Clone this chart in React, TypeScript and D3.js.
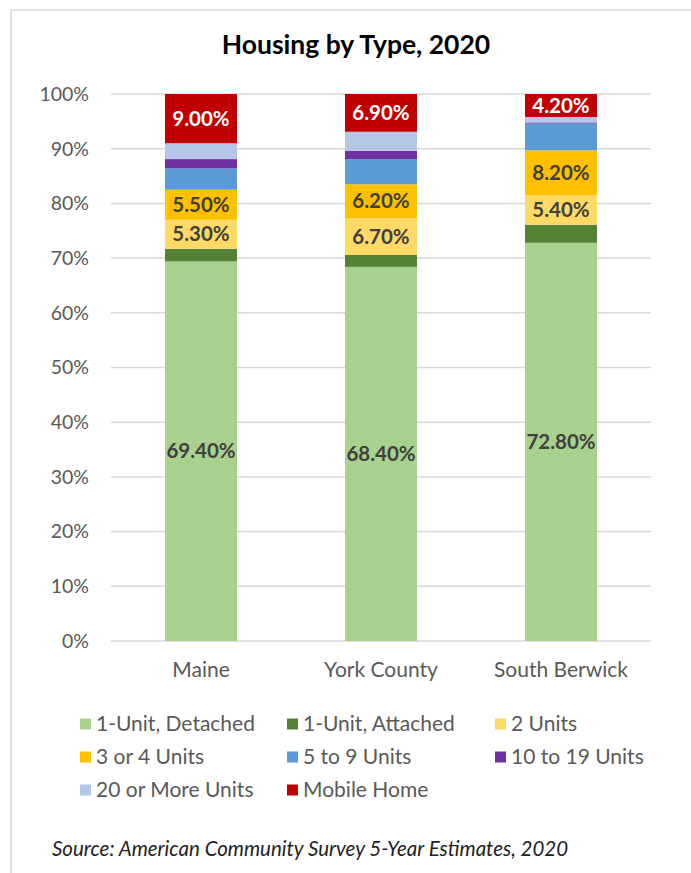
import React from "react";
import * as d3 from "d3";

const places = ["Maine", "York County", "South Berwick"];
const seriesNames = [
  "1-Unit, Detached",
  "1-Unit, Attached",
  "2 Units",
  "3 or 4 Units",
  "5 to 9 Units",
  "10 to 19 Units",
  "20 or More Units",
  "Mobile Home",
];
const colors = ["#a9d18e", "#548235", "#ffd966", "#ffc000", "#5b9bd5", "#7030a0", "#b4c7e7", "#c00000"];
// percent per place, in series order
const maine = [69.4, 2.3, 5.3, 5.5, 3.9, 1.7, 2.9, 9.0];
const york = [68.4, 2.2, 6.7, 6.2, 4.6, 1.5, 3.5, 6.9];
const southBerwick = [72.8, 3.3, 5.4, 8.2, 4.9, 0.2, 1.0, 4.2];
// which series carry a value label
const labelled = [0, 2, 3, 7];
const yTicks = [0, 10, 20, 30, 40, 50, 60, 70, 80, 90, 100];

const font = "Lato, 'Open Sans', sans-serif";

export default function App() {
  const W = 691;
  const H = 873;
  const left = 111;
  const right = 651;
  const top = 94;
  const bottom = 641;

  const rows = [maine, york, southBerwick].map((vals, i) => {
    const r: any = { place: places[i] };
    seriesNames.forEach((s, j) => (r[s] = vals[j]));
    return r;
  });
  const stacked = d3.stack<any>().keys(seriesNames)(rows);

  const x = d3.scaleBand().domain(places).range([left, right]).paddingInner(0.6).paddingOuter(0.3);
  const y = d3.scaleLinear().domain([0, 100]).range([bottom, top]);

  const legendCols = [80, 287, 495];
  const legendRows = [724, 757, 790];

  return (
    <svg width={W} height={H} style={{ position: "absolute", left: 0, top: 0, background: "#fff" }} fontFamily={font}>
      <rect x={11} y={10} width={W + 20} height={H + 20} fill="#fff" stroke="#d9d9d9" strokeWidth={1.5} />
      <text x={356} y={45} dy="0.35em" textAnchor="middle" fontSize={26.5} fontWeight="bold" fill="#000">
        Housing by Type, 2020
      </text>
      {yTicks.map((t) => (
        <g key={t}>
          <line x1={left} x2={right} y1={y(t)} y2={y(t)} stroke="#d9d9d9" strokeWidth={1.5} />
          <text x={89} y={y(t)} dy="0.35em" textAnchor="end" fontSize={19.5} fill="#595959">
            {t}%
          </text>
        </g>
      ))}
      {stacked.map((layer, j) => (
        <g key={layer.key} fill={colors[j]}>
          {layer.map((d, i) => (
            <rect
              key={i}
              x={x(places[i])}
              width={x.bandwidth()}
              y={y(d[1])}
              height={y(d[0]) - y(d[1])}
            />
          ))}
        </g>
      ))}
      {stacked.map((layer, j) =>
        labelled.includes(j)
          ? layer.map((d, i) => (
              <text
                key={`${j}-${i}`}
                x={(x(places[i]) as number) + x.bandwidth() / 2}
                y={y((d[0] + d[1]) / 2)}
                dy="0.35em"
                textAnchor="middle"
                fontSize={20.5}
                fontWeight="bold"
                fill={j === 7 ? "#fff" : "#404040"}
              >
                {(d[1] - d[0]).toFixed(2)}%
              </text>
            ))
          : null
      )}
      {places.map((p) => (
        <text
          key={p}
          x={(x(p) as number) + x.bandwidth() / 2}
          y={670}
          dy="0.35em"
          textAnchor="middle"
          fontSize={21}
          fill="#595959"
        >
          {p}
        </text>
      ))}
      {seriesNames.map((s, j) => {
        const lx = legendCols[j % 3];
        const ly = legendRows[Math.floor(j / 3)];
        return (
          <g key={s}>
            <rect x={lx} y={ly - 5.5} width={11} height={11} fill={colors[j]} />
            <text x={lx + 16} y={ly} dy="0.35em" fontSize={21} fill="#595959">
              {s}
            </text>
          </g>
        );
      })}
      <text x={52} y={849} dy="0.35em" fontSize={20.5} fontStyle="italic" fill="#222">
        Source: American Community Survey 5-Year Estimates, 2020
      </text>
    </svg>
  );
}
